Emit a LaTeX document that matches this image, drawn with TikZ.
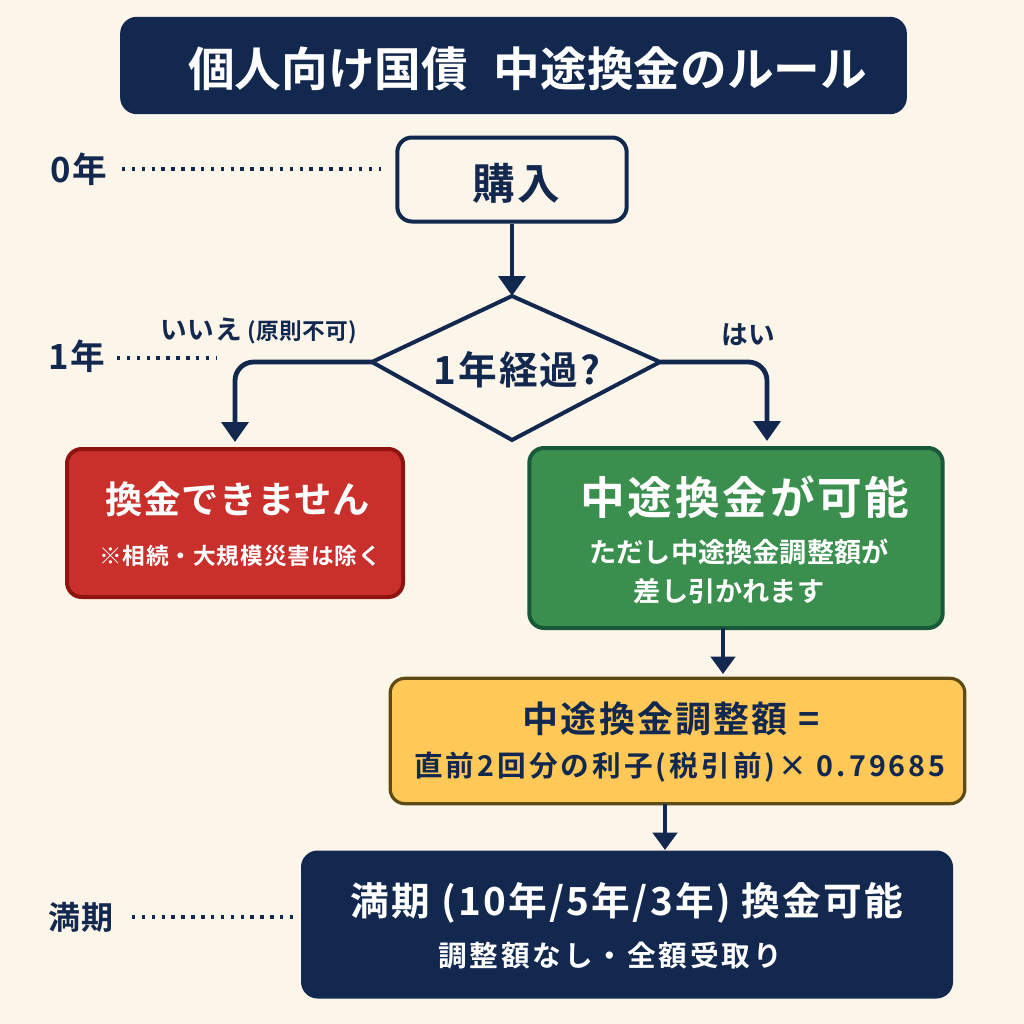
\documentclass[tikz,border=0pt]{standalone}
\usepackage{fontspec}
\setmainfont{Noto Sans CJK JP}[BoldFont={Noto Sans CJK JP Bold}]
\usetikzlibrary{arrows.meta}
\definecolor{navy}{HTML}{12284F}
\definecolor{cream}{HTML}{FCF5EA}
\definecolor{redb}{HTML}{C9302C}
\definecolor{redl}{HTML}{8E1410}
\definecolor{greenb}{HTML}{3A8F4E}
\definecolor{greenl}{HTML}{17593A}
\definecolor{yellowb}{HTML}{FFC857}
\definecolor{yellowl}{HTML}{5E4A14}
\tikzset{
 box/.style={draw=navy,line width=3pt,rounded corners=11pt,anchor=center,inner sep=0pt},
 flow/.style={draw=navy,line width=3.6pt,rounded corners=14pt,-{Triangle[length=15pt,width=20pt]}},
 flowb/.style={draw=navy,line width=3.6pt,-{Triangle[length=13pt,width=18pt]}},
 dots/.style={draw=navy,line width=2.4pt,dash pattern=on 2.6pt off 4.8pt},
 t/.style={inner sep=0pt,font=\bfseries,align=center},
}
\newcommand{\fs}[2]{\fontsize{#1}{#1}\selectfont\addfontfeature{LetterSpace=#2}}
\begin{document}
\begin{tikzpicture}[x=0.75pt,y=-0.75pt]
\useasboundingbox (0,0) rectangle (1024,1024);
\fill[cream] (0,0) rectangle (1024,1024);
% title
\node[box,fill=navy,minimum width=587pt,minimum height=70pt] (title) at (513.5,65.5) {};
\node[t,text=white] (titlet) at (527.5,69) {\fs{35}{0}個人向け国債\hspace{0.55em}中途換金のルール};
% buy
\node[box,fill=cream,minimum width=172pt,minimum height=63pt] (buy) at (512,179.5) {};
\node[t,text=navy] (buyt) at (516,183) {\fs{32}{5}購入};
% decision
\coordinate (dn) at (512,296);
\coordinate (de) at (660,362);
\coordinate (ds) at (512,440);
\coordinate (dw) at (372,362);
\draw[navy,line width=3pt,line join=miter] (dn) -- (de) -- (ds) -- (dw) -- cycle;
\node[t,text=navy] (dect) at (517,370) {\fs{29}{5}1年経過?};
% red
\node[box,draw=redl,fill=redb,minimum width=252pt,minimum height=111pt] (red) at (235,523) {};
\node[t,text=white] (red1) at (238,499) {\fs{28}{2}換金できません};
\node[t,text=white] (red2) at (240,556) {\fs{17}{4}※相続・大規模災害は除く};
% green
\node[box,draw=greenl,fill=greenb,minimum width=310pt,minimum height=135pt] (green) at (736,538) {};
\node[t,text=white] (g1) at (745,497) {\fs{33.5}{6}中途換金が可能};
\node[t,text=white] (g2) at (739,552) {\fs{20.4}{0}ただし中途換金調整額が};
\node[t,text=white] (g3) at (729,591) {\fs{20.4}{0}差し引かれます};
% yellow
\node[box,fill=yellowb,draw=yellowl,line width=2.4pt,minimum width=431pt,minimum height=94pt] (yel) at (677.5,741) {};
\node[t,text=navy] (y1) at (671,719) {\fs{27}{6}中途換金調整額 =};
\node[t,text=navy] (y2) at (680,767) {\fs{21.5}{10.5}直前2回分の利子(税引前)× 0.79685};
% bottom
\node[box,fill=navy,minimum width=486pt,minimum height=108pt] (bot) at (627,924.5) {};
\node[t,text=white] (b1) at (627,903) {\fs{29}{6}満期 (10年/5年/3年) 換金可能};
\node[t,text=white] (b2) at (610,956) {\fs{21.5}{10}調整額なし・全額受取り};
% arrows
\coordinate (gl) at (235,362);
\coordinate (gr) at (767,362);
\coordinate (redt) at (235,442);
\coordinate (gt) at (767,441);
\coordinate (a1) at (723,628);
\coordinate (a2) at (723,674);
\coordinate (a3) at (665,804);
\coordinate (a4) at (665,850);
\draw[flowb,-{Triangle[length=15pt,width=20pt]}] (buy.south -| dn) -- (dn);
\draw[flow] (dw) -- (gl) -- (redt);
\draw[flow] (de) -- (gr) -- (gt);
\draw[flowb] (a1) -- (a2);
\draw[flowb] (a3) -- (a4);
% labels
\node[t,text=navy] (l0) at (79,169) {\fs{26}{5}0年};
\node[t,text=navy] (l1) at (77,356) {\fs{26}{5}1年};
\node[t,text=navy] (lm) at (81,917) {\fs{24}{2}満期};
\coordinate (c0a) at (122,169);
\coordinate (c0) at (381,169);
\coordinate (c1a) at (117,358);
\coordinate (c1) at (216,358);
\coordinate (cma) at (132,917);
\coordinate (cm) at (299,917);
\draw[dots] (c0a) -- (c0);
\draw[dots] (c1a) -- (c1);
\draw[dots] (cma) -- (cm);
\node[t,text=navy] (no) at (259,331) {\fs{20}{2}いいえ\hspace{0.2em}{\fs{17}{2}(原則不可)}};
\node[t,text=navy] (yes) at (748,335) {\fs{20}{2}はい};
\end{tikzpicture}
\end{document}
